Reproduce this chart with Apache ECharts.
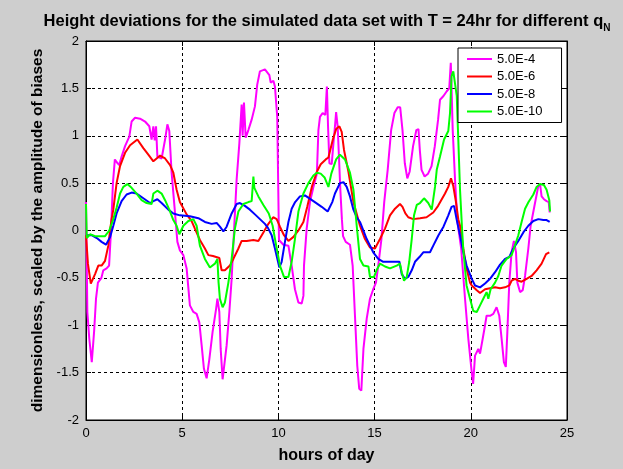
<!DOCTYPE html>
<html>
<head>
<meta charset="utf-8">
<script src="https://cdn.jsdelivr.net/npm/echarts@6/dist/echarts.min.js"></script>
<style>
html,body{margin:0;padding:0;background:#cecece;}
#chart{width:623px;height:469px;}
</style>
</head>
<body>
<div id="chart"></div>
<script>
const seriesNames = ['5.0E-4', '5.0E-6', '5.0E-8', '5.0E-10'];
const seriesColors = ['#ff00ff', '#ff0000', '#0000ff', '#00ff00'];
const xTicks = [0, 5, 10, 15, 20, 25];
const yTicks = [-2, -1.5, -1, -0.5, 0, 0.5, 1, 1.5, 2];

// [hour, value]
const q4 = [[0,0.3],[0.07,-0.86],[0.17,-1.14],[0.3,-1.39],[0.42,-1.07],[0.52,-0.72],[0.62,-0.55],[0.8,-0.5],[0.9,-0.42],[1.07,-0.4],[1.2,-0.37],[1.3,0.0],[1.4,0.5],[1.5,0.75],[1.6,0.72],[1.73,0.69],[1.85,0.78],[2.03,0.89],[2.25,0.99],[2.37,1.15],[2.55,1.19],[2.81,1.18],[3.07,1.15],[3.29,1.1],[3.41,0.96],[3.5,1.1],[3.57,0.95],[3.64,1.1],[3.71,0.78],[3.93,0.76],[4.11,0.96],[4.23,1.12],[4.33,1.05],[4.45,0.61],[4.6,0.25],[4.7,0.0],[4.75,-0.12],[4.88,-0.21],[5.06,-0.26],[5.23,-0.4],[5.4,-0.79],[5.58,-0.86],[5.75,-0.88],[5.89,-0.97],[6.01,-1.21],[6.13,-1.46],[6.27,-1.56],[6.41,-1.36],[6.58,-1.07],[6.76,-0.83],[6.83,-0.72],[6.93,-0.86],[7.0,-1.25],[7.1,-1.57],[7.19,-1.58],[7.31,-1.21],[7.45,-0.86],[7.57,-0.51],[7.69,-0.02],[7.83,0.54],[7.97,0.92],[8.09,1.33],[8.14,1.0],[8.21,1.35],[8.3,0.98],[8.44,1.06],[8.61,1.17],[8.78,1.31],[8.9,1.54],[9.04,1.68],[9.3,1.7],[9.53,1.64],[9.6,1.56],[9.74,1.58],[9.82,1.52],[9.94,1.2],[10.03,-0.1],[10.26,-0.15],[10.52,-0.16],[10.69,-0.37],[10.86,-0.62],[11.04,-0.76],[11.21,-0.77],[11.3,-0.69],[11.33,-0.37],[11.47,0.02],[11.64,0.3],[11.82,0.46],[12.0,0.6],[12.08,1.06],[12.16,1.2],[12.3,1.24],[12.44,1.22],[12.52,1.52],[12.58,1.1],[12.65,0.71],[12.77,0.7],[12.86,0.92],[12.94,1.1],[13.0,1.25],[13.08,1.1],[13.22,0.43],[13.3,0.12],[13.36,-0.06],[13.5,-0.12],[13.72,-0.15],[13.86,-0.37],[13.98,-0.9],[14.1,-1.43],[14.2,-1.67],[14.31,-1.69],[14.42,-1.25],[14.59,-0.93],[14.76,-0.72],[14.93,-0.62],[15.07,-0.55],[15.19,-0.37],[15.35,-0.1],[15.5,0.3],[15.68,0.64],[15.86,1.06],[16.03,1.24],[16.2,1.3],[16.33,1.3],[16.45,1.06],[16.57,0.71],[16.7,0.55],[16.82,0.62],[17.0,0.89],[17.17,1.06],[17.28,1.07],[17.35,0.85],[17.44,0.64],[17.6,0.57],[17.78,0.6],[17.96,0.68],[18.13,0.89],[18.3,1.17],[18.4,1.38],[18.58,1.42],[18.75,1.47],[18.88,1.5],[18.96,1.77],[19.0,1.5],[19.06,1.06],[19.18,0.54],[19.3,0.1],[19.5,-0.19],[19.7,-0.72],[19.87,-1.14],[20.03,-1.46],[20.12,-1.62],[20.22,-1.32],[20.3,-1.3],[20.39,-1.25],[20.48,-1.3],[20.62,-1.14],[20.74,-1.0],[20.82,-0.9],[21.0,-0.9],[21.17,-0.88],[21.34,-0.81],[21.48,-0.9],[21.6,-1.14],[21.72,-1.39],[21.82,-1.44],[21.9,-1.07],[22.0,-0.55],[22.12,-0.23],[22.24,-0.11],[22.35,-0.23],[22.42,-0.55],[22.56,-0.65],[22.7,-0.63],[22.82,-0.48],[22.99,-0.19],[23.11,0.05],[23.3,0.25],[23.5,0.46],[23.6,0.49],[23.68,0.36],[23.8,0.33],[23.94,0.31],[24.05,0.3],[24.1,0.19]];

const q6 = [[0,-0.05],[0.1,-0.35],[0.25,-0.56],[0.35,-0.55],[0.47,-0.46],[0.64,-0.37],[0.81,-0.37],[0.99,-0.32],[1.16,-0.16],[1.25,0.0],[1.33,0.12],[1.42,0.22],[1.59,0.5],[1.77,0.68],[2.03,0.82],[2.29,0.9],[2.67,0.96],[2.98,0.87],[3.24,0.8],[3.5,0.73],[3.67,0.76],[3.85,0.79],[4.11,0.76],[4.37,0.69],[4.54,0.61],[4.71,0.43],[4.88,0.3],[5.23,0.17],[5.49,0.1],[5.66,0.02],[5.92,-0.1],[6.18,-0.19],[6.36,-0.26],[6.6,-0.27],[6.93,-0.29],[7.05,-0.42],[7.22,-0.42],[7.48,-0.37],[7.66,-0.3],[7.92,-0.19],[8.09,-0.11],[8.35,-0.11],[8.7,-0.1],[8.96,-0.11],[9.22,-0.02],[9.48,0.07],[9.73,0.14],[9.91,0.12],[10.08,0.04],[10.29,-0.05],[10.52,-0.11],[10.77,-0.07],[11.04,0.0],[11.3,0.09],[11.5,0.25],[11.75,0.47],[12.0,0.62],[12.2,0.7],[12.46,0.75],[12.6,0.77],[12.83,0.96],[13.0,1.07],[13.17,1.1],[13.29,1.04],[13.41,0.85],[13.64,0.62],[13.9,0.3],[14.24,0.05],[14.5,-0.09],[14.76,-0.18],[15.02,-0.19],[15.28,-0.09],[15.54,0.02],[15.8,0.16],[16.06,0.23],[16.32,0.28],[16.45,0.25],[16.6,0.18],[16.75,0.14],[17.01,0.12],[17.36,0.13],[17.7,0.14],[18.05,0.19],[18.3,0.26],[18.66,0.39],[18.83,0.46],[18.97,0.55],[19.09,0.47],[19.23,0.3],[19.35,0.12],[19.44,0.05],[19.61,-0.19],[19.78,-0.4],[19.96,-0.55],[20.05,-0.58],[20.31,-0.63],[20.48,-0.66],[20.74,-0.62],[21.0,-0.61],[21.26,-0.6],[21.52,-0.61],[21.78,-0.6],[22.0,-0.58],[22.12,-0.53],[22.3,-0.51],[22.47,-0.53],[22.64,-0.54],[22.9,-0.51],[23.16,-0.48],[23.42,-0.42],[23.68,-0.35],[23.91,-0.25],[24.08,-0.23]];

const q8 = [[0,-0.05],[0.29,-0.05],[0.56,-0.08],[0.81,-0.12],[1.04,-0.15],[1.25,-0.07],[1.42,0.05],[1.59,0.18],[1.85,0.31],[2.11,0.38],[2.37,0.4],[2.63,0.39],[2.98,0.34],[3.33,0.29],[3.5,0.31],[3.71,0.33],[3.93,0.29],[4.28,0.22],[4.54,0.18],[4.88,0.16],[5.4,0.15],[5.84,0.13],[6.18,0.09],[6.53,0.07],[6.79,0.08],[6.96,0.04],[7.14,-0.01],[7.31,0.04],[7.57,0.18],[7.83,0.28],[8.0,0.29],[8.26,0.26],[8.52,0.22],[8.78,0.17],[9.04,0.12],[9.3,0.07],[9.45,0.03],[9.65,-0.05],[9.82,-0.19],[10.05,-0.39],[10.17,-0.33],[10.34,-0.12],[10.52,0.09],[10.69,0.23],[10.87,0.3],[11.12,0.36],[11.38,0.37],[11.82,0.31],[12.25,0.25],[12.56,0.2],[12.8,0.3],[12.94,0.39],[13.2,0.5],[13.38,0.51],[13.55,0.46],[13.72,0.36],[13.9,0.22],[14.07,0.14],[14.24,0.09],[14.59,-0.09],[14.93,-0.23],[15.19,-0.3],[15.45,-0.33],[15.8,-0.33],[16.06,-0.33],[16.29,-0.33],[16.41,-0.46],[16.58,-0.51],[16.75,-0.49],[16.93,-0.42],[17.1,-0.33],[17.33,-0.28],[17.53,-0.23],[17.88,-0.23],[18.05,-0.16],[18.32,-0.05],[18.58,0.04],[18.83,0.16],[19.0,0.25],[19.13,0.26],[19.26,0.12],[19.44,-0.05],[19.61,-0.23],[19.78,-0.37],[20.05,-0.51],[20.22,-0.58],[20.48,-0.6],[20.74,-0.56],[21.0,-0.51],[21.26,-0.44],[21.52,-0.36],[21.78,-0.3],[22.0,-0.28],[22.21,-0.19],[22.47,-0.11],[22.73,-0.02],[22.99,0.05],[23.25,0.1],[23.51,0.12],[23.77,0.11],[23.94,0.11],[24.1,0.09]];

const q10 = [[0,0.28],[0.04,-0.08],[0.21,-0.04],[0.47,-0.06],[0.73,-0.06],[0.99,-0.06],[1.21,0.0],[1.42,0.12],[1.59,0.24],[1.77,0.39],[1.94,0.46],[2.15,0.49],[2.37,0.45],[2.63,0.39],[2.89,0.32],[3.15,0.29],[3.41,0.28],[3.5,0.39],[3.71,0.42],[3.93,0.39],[4.11,0.32],[4.33,0.22],[4.54,0.11],[4.71,0.05],[4.85,-0.04],[5.06,0.05],[5.32,0.1],[5.58,0.12],[5.75,0.05],[5.92,-0.16],[6.18,-0.3],[6.44,-0.39],[6.7,-0.35],[6.83,-0.3],[6.89,-0.55],[6.96,-0.72],[7.1,-0.81],[7.22,-0.76],[7.4,-0.55],[7.57,-0.3],[7.74,0.02],[7.92,0.2],[8.18,0.28],[8.44,0.3],[8.61,0.31],[8.7,0.57],[8.75,0.45],[8.96,0.36],[9.22,0.27],[9.5,0.18],[9.7,0.05],[9.85,-0.12],[10.08,-0.37],[10.29,-0.49],[10.52,-0.49],[10.69,-0.33],[10.86,-0.09],[11.04,0.2],[11.3,0.39],[11.56,0.5],[11.82,0.58],[12.0,0.61],[12.2,0.6],[12.4,0.56],[12.6,0.46],[12.75,0.6],[13.0,0.75],[13.2,0.8],[13.46,0.75],[13.72,0.61],[13.9,0.43],[14.07,0.05],[14.24,-0.3],[14.42,-0.37],[14.68,-0.38],[14.76,-0.49],[14.97,-0.49],[15.1,-0.42],[15.28,-0.35],[15.54,-0.38],[15.8,-0.4],[16.15,-0.37],[16.32,-0.35],[16.41,-0.44],[16.53,-0.53],[16.67,-0.49],[16.8,-0.33],[16.93,-0.09],[17.05,0.16],[17.19,0.27],[17.36,0.29],[17.57,0.34],[17.79,0.29],[17.97,0.22],[18.14,0.46],[18.23,0.64],[18.4,0.78],[18.61,0.96],[18.83,1.05],[18.92,1.24],[19.0,1.63],[19.09,1.68],[19.19,1.66],[19.27,1.42],[19.35,0.96],[19.44,0.43],[19.55,0.0],[19.61,-0.2],[19.78,-0.58],[19.96,-0.72],[20.13,-0.85],[20.31,-0.86],[20.48,-0.79],[20.65,-0.72],[20.82,-0.65],[20.91,-0.72],[21.03,-0.62],[21.26,-0.55],[21.43,-0.48],[21.6,-0.37],[21.86,-0.3],[22.12,-0.26],[22.24,-0.19],[22.47,-0.05],[22.64,0.09],[22.82,0.23],[23.0,0.3],[23.25,0.38],[23.42,0.46],[23.6,0.49],[23.8,0.48],[23.94,0.43],[24.08,0.32],[24.12,0.2]];

const allData = [q4, q6, q8, q10];
const FONT = '"Liberation Sans", Arial, sans-serif';
// horizontal line legend icon (box 50x28, bar 4 thick in the middle)
const LINE_ICON = 'path://M0,12 L50,12 L50,16 L0,16 Z M0,0 L0.01,0 L0,0.01 Z M50,28 L49.99,28 L50,27.99 Z';

const chart = echarts.init(document.getElementById('chart'), null, {renderer: 'canvas'});

function axisCommon(min, max, interval) {
  return {
    type: 'value', min: min, max: max, interval: interval,
    axisLine: {show: true, onZero: false, lineStyle: {color: '#000', width: 1}},
    axisTick: {show: true, inside: true, length: 5, lineStyle: {color: '#000'}},
    axisLabel: {color: '#000', fontSize: 13, fontFamily: FONT, margin: 7},
    splitLine: {show: true, lineStyle: {color: '#000', type: [3, 3], width: 1}}
  };
}

const xMain = Object.assign(axisCommon(xTicks[0], xTicks[xTicks.length - 1], 5), {
  position: 'bottom',
  name: 'hours of day', nameLocation: 'middle', nameGap: 28,
  nameTextStyle: {color: '#000', fontWeight: 'bold', fontSize: 16, fontFamily: FONT}
});
const xTop = Object.assign(axisCommon(xTicks[0], xTicks[xTicks.length - 1], 5), {
  position: 'top', axisLabel: {show: false}, splitLine: {show: false}
});
const yMain = Object.assign(axisCommon(yTicks[0], yTicks[yTicks.length - 1], 0.5), {
  position: 'left',
  name: 'dimensionless, scaled by the amplitude of biases', nameLocation: 'middle', nameGap: 36,
  nameTextStyle: {color: '#000', fontWeight: 'bold', fontSize: 15.5, fontFamily: FONT}
});
const yRight = Object.assign(axisCommon(yTicks[0], yTicks[yTicks.length - 1], 0.5), {
  position: 'right', axisLabel: {show: false}, splitLine: {show: false}
});

const option = {
  animation: false,
  backgroundColor: '#cecece',
  title: {
    text: '{t|Height deviations for the simulated data set with T = 24hr for different q}{s|N}',
    left: 322, textAlign: 'center', top: 4,
    textStyle: {
      rich: {
        t: {fontSize: 16.5, fontWeight: 'bold', fontFamily: FONT, color: '#000', lineHeight: 24, verticalAlign: 'middle'},
        s: {fontSize: 10, fontWeight: 'bold', fontFamily: FONT, color: '#000', lineHeight: 24, verticalAlign: 'bottom'}
      }
    }
  },
  grid: {left: 86, top: 41, width: 481, height: 380, show: true, backgroundColor: '#fff', borderColor: '#000', borderWidth: 1},
  legend: {
    orient: 'vertical', left: 458, top: 48,
    backgroundColor: '#fff', borderColor: '#000', borderWidth: 1,
    padding: [4, 19, 4, 9], itemGap: 3.5, itemWidth: 25, itemHeight: 14,
    icon: LINE_ICON,
    textStyle: {fontSize: 13, fontFamily: FONT, color: '#000'},
    data: seriesNames
  },
  xAxis: [xMain, xTop],
  yAxis: [yMain, yRight],
  series: allData.map((d, i) => ({
    name: seriesNames[i], type: 'line', data: d, xAxisIndex: 0, yAxisIndex: 0,
    symbol: 'none', lineStyle: {color: seriesColors[i], width: 2}, itemStyle: {color: seriesColors[i]}
  }))
};
chart.setOption(option);
</script>
</body>
</html>
